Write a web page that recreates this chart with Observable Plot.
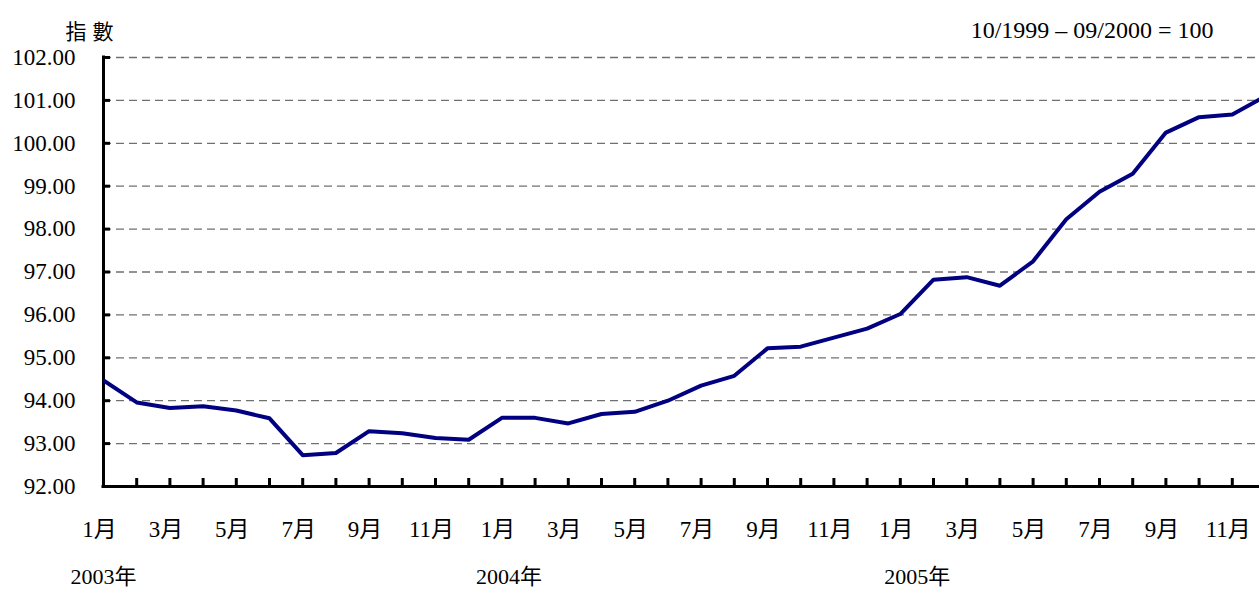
<!DOCTYPE html>
<html><head><meta charset="utf-8">
<script src="https://cdn.jsdelivr.net/npm/d3@7"></script>
<script src="https://cdn.jsdelivr.net/npm/@observablehq/plot@0.6"></script>
<style>
html,body{margin:0;padding:0;background:#fff;overflow:hidden}
svg, svg text{font-family:'Liberation Serif','Noto Sans CJK TC',serif !important;}
</style>
</head><body><div id="chart"></div>
<script>
const periods = [
  "2003-01","2003-02","2003-03","2003-04","2003-05","2003-06","2003-07","2003-08","2003-09","2003-10","2003-11","2003-12",
  "2004-01","2004-02","2004-03","2004-04","2004-05","2004-06","2004-07","2004-08","2004-09","2004-10","2004-11","2004-12",
  "2005-01","2005-02","2005-03","2005-04","2005-05","2005-06","2005-07","2005-08","2005-09","2005-10","2005-11","2005-12"
];
const indexValues = [
  94.47, 93.96, 93.83, 93.87, 93.77, 93.59, 92.73, 92.78, 93.29, 93.24, 93.13, 93.09,
  93.60, 93.60, 93.47, 93.69, 93.74, 94.00, 94.35, 94.58, 95.22, 95.26, 95.47, 95.68,
  96.02, 96.82, 96.88, 96.68, 97.25, 98.23, 98.87, 99.29, 100.25, 100.61, 100.67, 101.10
];
const monthTickPeriods = [
  "2003-01","2003-03","2003-05","2003-07","2003-09","2003-11",
  "2004-01","2004-03","2004-05","2004-07","2004-09","2004-11",
  "2005-01","2005-03","2005-05","2005-07","2005-09","2005-11"
];
const monthTickLabels = [
  "1月","3月","5月","7月","9月","11月",
  "1月","3月","5月","7月","9月","11月",
  "1月","3月","5月","7月","9月","11月"
];
const yearLabelPeriods = ["2003-01","2004-01","2005-01"];
const yearLabels = ["2003年","2004年","2005年"];
const yTicks = [92,93,94,95,96,97,98,99,100,101,102];
const yAxisTitle = "指數";
const baseNote = "10/1999 – 09/2000 = 100";

const rows = periods.map((p, i) => ({i, period: p, value: indexValues[i]}));
const monthRows = monthTickPeriods.map((p, k) => ({i: periods.indexOf(p), label: monthTickLabels[k]}));
const yearRows = yearLabelPeriods.map((p, k) => ({i: periods.indexOf(p), label: yearLabels[k]}));
const yearDx = [0, 7, 17];
const FONT = "'Liberation Serif','Noto Sans CJK TC',serif";

const chart = Plot.plot({
  width: 1259,
  height: 590,
  marginLeft: 103,
  marginRight: 0,
  marginTop: 57,
  marginBottom: 104,
  style: {fontFamily: FONT, fontSize: "23px", color: "#000", background: "#fff"},
  x: {domain: [0, periods.length - 1], range: [103, 1265], axis: null},
  y: {domain: [92, 102], range: [486, 57], axis: null},
  marks: [
    Plot.ruleY(yTicks.filter(v => v > 92), {stroke: "#707070", strokeWidth: 1.3, strokeDasharray: "8,5"}),
    Plot.axisY(yTicks, {anchor: "left", tickSize: 7, dx: 7, tickPadding: 28, tickFormat: d => d.toFixed(2), strokeWidth: 3, fontSize: 23, fontFamily: FONT, label: null}),
    Plot.axisX(rows.map(r => r.i), {anchor: "bottom", tickSize: 8, dy: -8, tickFormat: () => "", strokeWidth: 3, label: null}),
    Plot.ruleX([0], {stroke: "#000", strokeWidth: 3, strokeLinecap: "square"}),
    Plot.ruleY([92], {stroke: "#000", strokeWidth: 3, strokeLinecap: "square"}),
    Plot.line(rows, {x: "i", y: "value", stroke: "#000080", strokeWidth: 4, clip: true}),
    Plot.text(monthRows, {x: "i", text: "label", frameAnchor: "bottom", lineAnchor: "middle", dy: 43, dx: -4, fontSize: 23, fontFamily: FONT, fill: "#000"}),
    ...yearRows.map((r, k) => Plot.text([r], {x: "i", text: "label", frameAnchor: "bottom", lineAnchor: "middle", dy: 90, dx: yearDx[k], fontSize: 22, fontFamily: FONT, fill: "#000"})),
    Plot.text([yAxisTitle], {text: d => d, frameAnchor: "top-left", textAnchor: "middle", lineAnchor: "middle", dx: -11, dy: -25, fontSize: 21, fontFamily: FONT, fill: "#000"}),
    Plot.text([baseNote], {text: d => d, frameAnchor: "top-right", textAnchor: "end", lineAnchor: "middle", dx: -46, dy: -27, fontSize: 24, fontFamily: FONT, fill: "#000"})
  ]
});
document.getElementById("chart").appendChild(chart);
chart.querySelectorAll("text").forEach(t => { if (t.textContent === yAxisTitle) t.setAttribute("letter-spacing", "6"); });
</script>
</body></html>
